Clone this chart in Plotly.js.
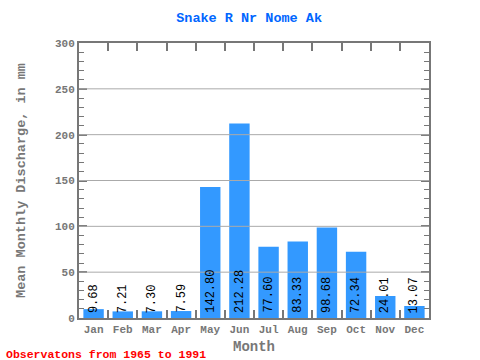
<!DOCTYPE html>
<html><head><meta charset="utf-8">
<script src="https://cdn.plot.ly/plotly-3.0.1.min.js"></script>
<style>html,body{margin:0;padding:0;background:#fff}#c{width:480px;height:360px}</style>
</head><body><div id="c"></div>
<script>
const months = ["Jan","Feb","Mar","Apr","May","Jun","Jul","Aug","Sep","Oct","Nov","Dec"];
const discharge = [9.68, 7.21, 7.30, 7.59, 142.80, 212.28, 77.60, 83.33, 98.68, 72.34, 24.01, 13.07];
const labels = ["9.68","7.21","7.30","7.59","142.80","212.28","77.60","83.33","98.68","72.34","24.01","13.07"];
const gridValues = [50, 100, 150, 200, 250];
const titleText = "Snake R Nr Nome Ak";
const footText = "Observatons from 1965 to 1991";

const mono = "Liberation Mono, DejaVu Sans Mono, monospace";
const gray = "#777777";

const annotations = months.map((m, i) => ({
  x: m, y: 0, xref: "x", yref: "y", text: labels[i], showarrow: false,
  textangle: -90, xanchor: "center", yanchor: "bottom", yshift: 3,
  font: {family: mono, size: 12, color: "#000"}
}));
annotations.push({
  xref: "paper", yref: "paper", x: -0.215, y: -0.1, xanchor: "left", yanchor: "top",
  text: "<b>" + footText + "</b>", showarrow: false,
  font: {family: mono, size: 11.5, color: "#ff0000"}
});

const shapes = gridValues.map(v => ({
  type: "line", xref: "paper", yref: "y", x0: 0, x1: 1, y0: v, y1: v,
  line: {color: "#aaaaaa", width: 1}, layer: "above"
}));

const data = [{
  type: "bar", x: months, y: discharge,
  marker: {color: "#3399ff"}, hoverinfo: "none"
}];

const layout = {
  width: 480, height: 360,
  margin: {l: 79, r: 51, t: 43, b: 42},
  paper_bgcolor: "#fff", plot_bgcolor: "#fff",
  bargap: 0.3,
  showlegend: false,
  title: {text: "<b>" + titleText + "</b>", x: 0.519, xanchor: "center", y: 0.952, yanchor: "middle",
          font: {family: mono, size: 13.5, color: "#0066ff"}},
  xaxis: {
    type: "category", range: [-0.5, 11.5],
    showline: true, linecolor: gray, linewidth: 2, mirror: "allticks",
    ticks: "inside", tickson: "boundaries", ticklen: 8, tickcolor: gray, tickwidth: 2,
    tickangle: 0,
    tickfont: {family: mono, size: 11, color: gray, weight: "bold"},
    title: {text: "<b>Month</b>", font: {family: mono, size: 14, color: gray}, standoff: 6},
    showgrid: false, fixedrange: true, layer: "above traces"
  },
  yaxis: {
    range: [0, 300], dtick: 50,
    showline: true, linecolor: gray, linewidth: 2, mirror: "allticks",
    ticks: "inside", ticklen: 8, tickcolor: gray, tickwidth: 2,
    minor: {dtick: 10, ticks: "inside", ticklen: 5, tickcolor: gray, tickwidth: 1, showgrid: false},
    tickfont: {family: mono, size: 11, color: gray, weight: "bold"},
    showgrid: false,
    zeroline: false,
    title: {text: "<b>Mean Monthly Discharge, in mm</b>", font: {family: mono, size: 13.5, color: gray}, standoff: 26},
    fixedrange: true, layer: "above traces"
  },
  shapes: shapes,
  annotations: annotations
};

Plotly.newPlot("c", data, layout, {displayModeBar: false, staticPlot: true});
</script></body></html>
